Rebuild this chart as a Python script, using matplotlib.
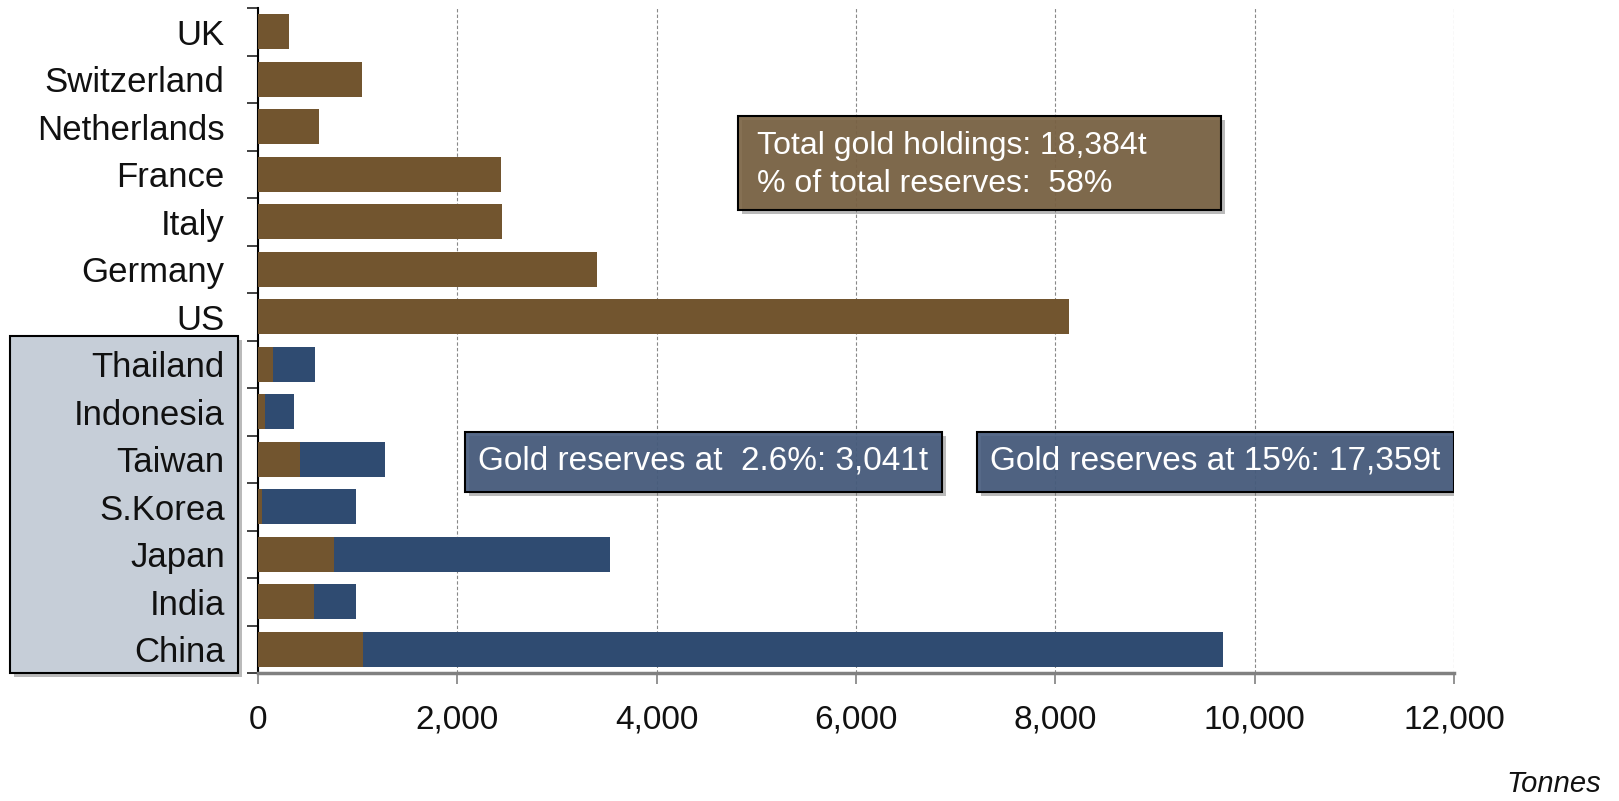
import numpy as np
import matplotlib
matplotlib.use('Agg')
import matplotlib.pyplot as plt
import matplotlib.patheffects as pe
from matplotlib.patches import Rectangle
from matplotlib.ticker import FixedLocator, FuncFormatter

plt.rcParams['font.family'] = ['Liberation Sans', 'DejaVu Sans']

# official gold holdings, tonnes
western = ['UK', 'Switzerland', 'Netherlands', 'France', 'Italy', 'Germany', 'US']
western_gold = [310, 1040, 612, 2435, 2452, 3396, 8133]

asian = ['Thailand', 'Indonesia', 'Taiwan', 'S.Korea', 'Japan', 'India', 'China']
asian_gold = [152, 73, 424, 40, 765, 557, 1054]
asian_at_15pct = [575, 357, 1274, 987, 3534, 983, 9680]

x_ticks = [0, 2000, 4000, 6000, 8000, 10000, 12000]

west_box = ['Total gold holdings: 18,384t', '% of total reserves:  58%']
low_box = 'Gold reserves at  2.6%: 3,041t'
high_box = 'Gold reserves at 15%: 17,359t'

BROWN = '#72552f'
BLUE = '#2f4b71'
shadow = [pe.withSimplePatchShadow(offset=(3, -3), shadow_rgbFace='#777777', alpha=0.5)]

fig = plt.figure(figsize=(16.19, 8.01), dpi=100)
ax = fig.add_axes([0.1594, 0.1598, 0.7387, 0.8302])

labels = western + asian
n = len(labels)
ypos = np.arange(n)[::-1]
ya = ypos[len(western):]

ax.barh(ypos, western_gold + asian_gold, height=0.73, color=BROWN, linewidth=0, zorder=3)
ax.barh(ya, np.subtract(asian_at_15pct, asian_gold), left=asian_gold, height=0.73,
        color=BLUE, linewidth=0, zorder=3)

ax.set_xlim(0, 12000)
ax.set_ylim(-0.5, n - 0.5)

ax.set_yticks(ypos)
ax.set_yticklabels(labels, fontsize=25, color='#111111')
ax.tick_params(axis='y', which='major', length=0, pad=24)
ax.yaxis.set_minor_locator(FixedLocator(np.arange(-0.5, n)))
ax.tick_params(axis='y', which='minor', length=8, width=1.3, color='#333333')

ax.set_xticks(x_ticks)
ax.xaxis.set_major_formatter(FuncFormatter(lambda v, p: f'{v:,.0f}'))
ax.tick_params(axis='x', length=8, width=1.2, color='#808080', pad=15,
               labelsize=24, labelcolor='#111111')
ax.xaxis.grid(True, linestyle=(0, (3, 2)), color='#888888', linewidth=0.8)
ax.set_axisbelow(True)

for s in ['top', 'right']:
    ax.spines[s].set_visible(False)
ax.spines['left'].set_color('black')
ax.spines['left'].set_linewidth(1.5)
ax.spines['bottom'].set_color('#808080')
ax.spines['bottom'].set_linewidth(2.5)

# shaded panel behind the Asian country names
ax.add_patch(Rectangle((0.0062, 0.1598), 0.1408, 0.4213, transform=fig.transFigure,
                       facecolor='#c6ced8', edgecolor='black', linewidth=1.5,
                       clip_on=False, zorder=0.5, path_effects=shadow))

# western holdings summary
ax.add_patch(Rectangle((4816, 9.247), 4846, 1.979, facecolor=(120/255, 96/255, 64/255, 0.9),
                       edgecolor='black', linewidth=1.5, zorder=5, path_effects=shadow))
for txt, yy in zip(west_box, [10.603, 9.795]):
    ax.text(5006, yy, txt, fontsize=23, color='white', ha='left', va='center', zorder=6)

# Asian reserves at 2.6% and 15%
for (x0, w), txt in zip([(2077, 4786), (7214, 4786)], [low_box, high_box]):
    ax.add_patch(Rectangle((x0, 3.31), w, 1.264, facecolor=(67/255, 89/255, 123/255, 0.9),
                           edgecolor='black', linewidth=1.5, zorder=5, path_effects=shadow))
    ax.text(x0 + w / 2, 3.953, txt, fontsize=24, color='white', ha='center', va='center', zorder=6)

fig.text(0.989, 0.004, 'Tonnes', fontsize=21, style='italic', ha='right', va='bottom',
         color='#111111')

fig.savefig('out.png', dpi=100)
